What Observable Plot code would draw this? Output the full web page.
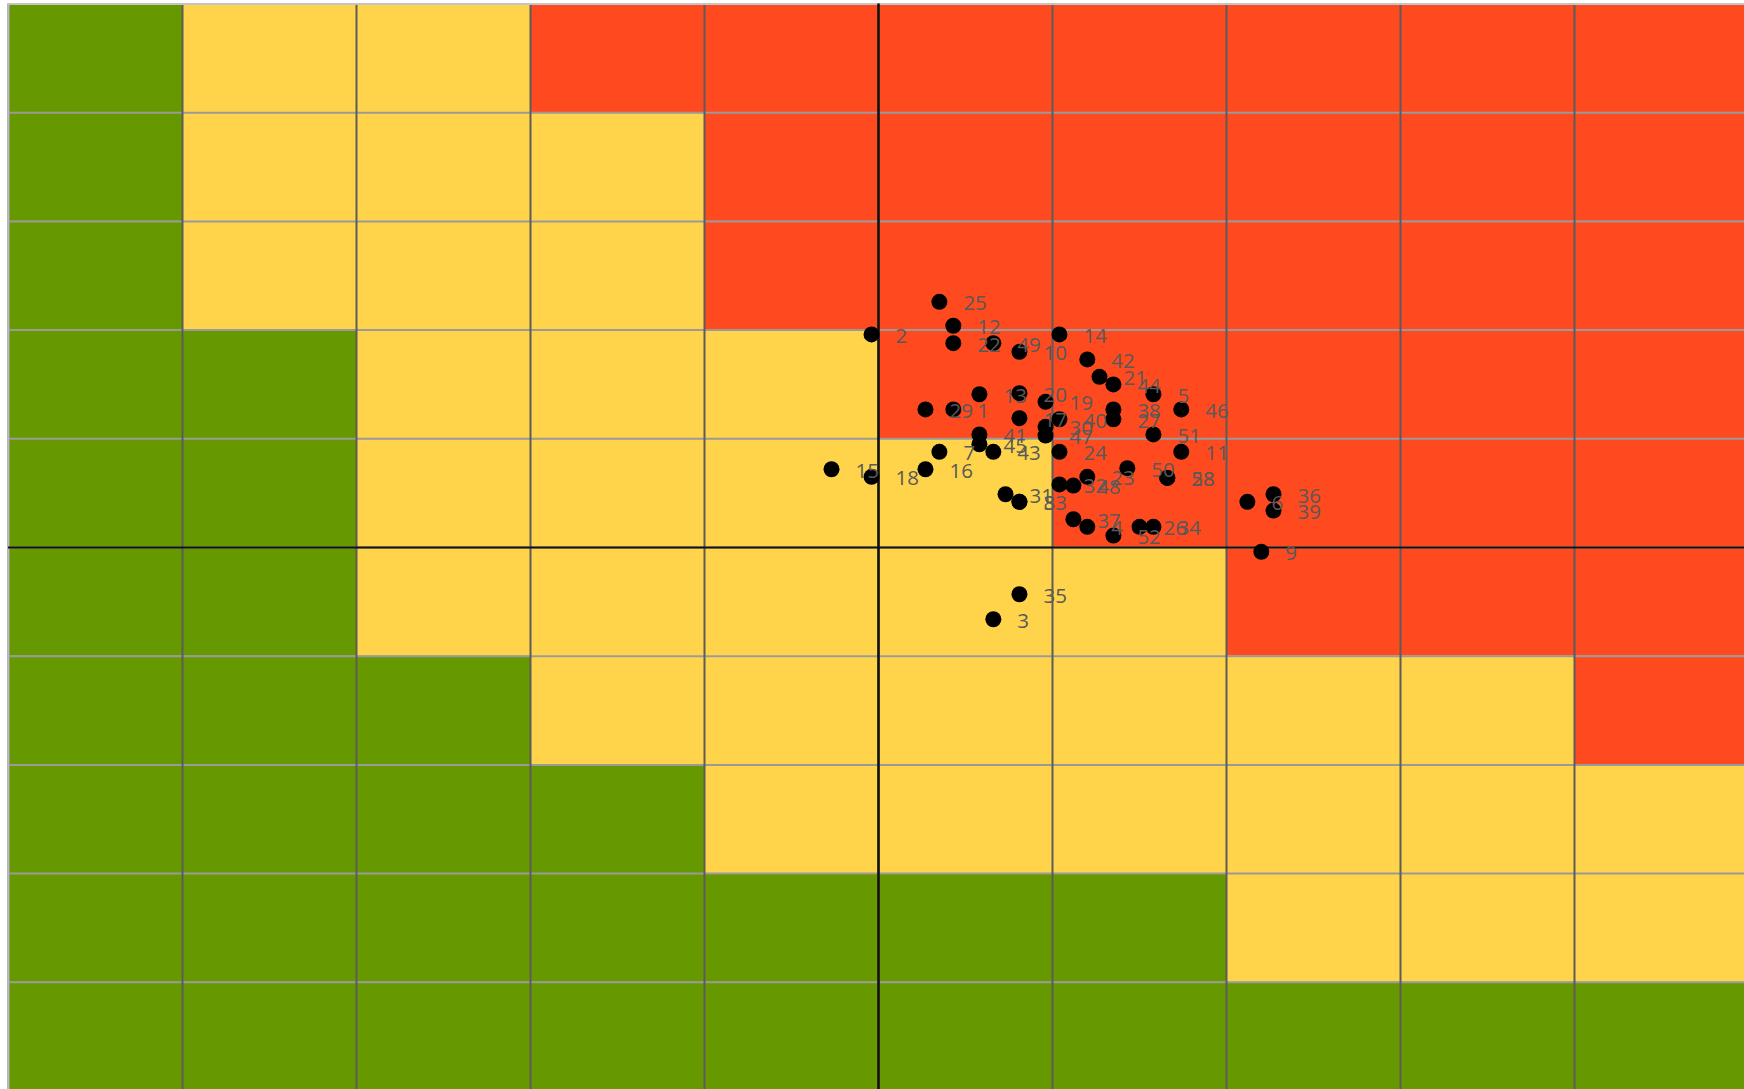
<!DOCTYPE html>
<html>
<head>
<meta charset="utf-8">
<script src="https://cdn.jsdelivr.net/npm/d3@7"></script>
<script src="https://cdn.jsdelivr.net/npm/@observablehq/plot@0.6"></script>
<style>
  html, body { margin: 0; padding: 0; background: #fff; overflow: hidden; }
  #chart svg { display: block; overflow: hidden; }
</style>
</head>
<body>
<div id="chart"></div>
<script>
// Risk-matrix zone of each cell, rows listed from top (y 9..10) to bottom (y 0..1)
const zoneRows = [
  ["G","Y","Y","R","R","R","R","R","R","R"],
  ["G","Y","Y","Y","R","R","R","R","R","R"],
  ["G","Y","Y","Y","R","R","R","R","R","R"],
  ["G","G","Y","Y","Y","R","R","R","R","R"],
  ["G","G","Y","Y","Y","Y","R","R","R","R"],
  ["G","G","Y","Y","Y","Y","Y","R","R","R"],
  ["G","G","G","Y","Y","Y","Y","Y","Y","R"],
  ["G","G","G","G","Y","Y","Y","Y","Y","Y"],
  ["G","G","G","G","G","G","G","Y","Y","Y"],
  ["G","G","G","G","G","G","G","G","G","G"]
];
const zoneNames = ["G", "Y", "R"];
const zoneColors = ["#669900", "#FFD44B", "#FF4A1F"];

// Points: label, x value, y value
const pointLabels = ["1","2","3","4","5","6","7","8","9","10","11","12","13","14","15","16","17","18","19","20",
  "21","22","23","24","25","26","27","28","29","30","31","32","33","34","35","36","37","38","39","40",
  "41","42","43","44","45","46","47","48","49","50","51","52","58"];
const pointX = [5.43,4.96,5.66,6.20,6.58,7.12,5.35,5.81,7.20,5.81,6.74,5.43,5.58,6.04,4.73,5.27,5.81,4.96,5.96,5.81,
  6.27,5.43,6.20,6.04,5.35,6.50,6.35,6.66,5.27,5.96,5.73,6.04,5.81,6.58,5.81,7.27,6.12,6.35,7.27,6.04,
  5.58,6.20,5.66,6.35,5.58,6.74,5.96,6.12,5.66,6.43,6.58,6.35,6.66];
const pointY = [6.27,6.96,4.34,5.19,6.41,5.42,5.88,5.42,4.96,6.80,5.88,7.04,6.41,6.96,5.72,5.72,6.19,5.65,6.34,6.42,
  6.57,6.88,5.65,5.88,7.26,5.19,6.18,5.64,6.27,6.11,5.49,5.58,5.42,5.19,4.57,5.49,5.26,6.27,5.34,6.18,
  6.04,6.73,5.88,6.50,5.95,6.27,6.03,5.57,6.88,5.73,6.04,5.11,5.64];

const gridTicks = [0,1,2,3,4,5,6,7,8,9,10];
const axisValue = [5];

const cells = [];
zoneRows.forEach((row, r) => row.forEach((z, c) => {
  cells.push({x1: c, x2: c + 1, y1: 9 - r, y2: 10 - r, zone: z});
}));
const points = pointLabels.map((label, i) => ({label, x: pointX[i], y: pointY[i]}));

const chart = Plot.plot({
  width: 1744,
  height: 1089,
  marginLeft: 8,
  marginRight: -4,
  marginTop: 3.5,
  marginBottom: -1.5,
  x: {domain: [0, 10], axis: null},
  y: {domain: [0, 10], axis: null},
  color: {domain: zoneNames, range: zoneColors},
  style: {background: "#fff"},
  marks: [
    Plot.rect(cells, {x1: "x1", x2: "x2", y1: "y1", y2: "y2", fill: "zone"}),
    Plot.ruleY(gridTicks, {stroke: "#9a9a9a", strokeWidth: 2}),
    Plot.ruleX(gridTicks, {stroke: "#5c5c5c", strokeWidth: 2}),
    Plot.ruleY([0, 10], {stroke: "#c4c4c4", strokeWidth: 2}),
    Plot.ruleX([0], {stroke: "#bdbdbd", strokeWidth: 2}),
    Plot.ruleX(axisValue, {stroke: "#111", strokeWidth: 2.5}),
    Plot.ruleY(axisValue, {stroke: "#111", strokeWidth: 2}),
    Plot.dot(points, {x: "x", y: "y", r: 8, fill: "#000", stroke: null}),
    Plot.text(points, {
      x: "x", y: "y", text: "label", dx: 24, dy: 2,
      textAnchor: "start", fill: "#595959", fontSize: 20.5, fontFamily: "Open Sans"
    })
  ]
});
document.getElementById("chart").appendChild(chart);
</script>
</body>
</html>
